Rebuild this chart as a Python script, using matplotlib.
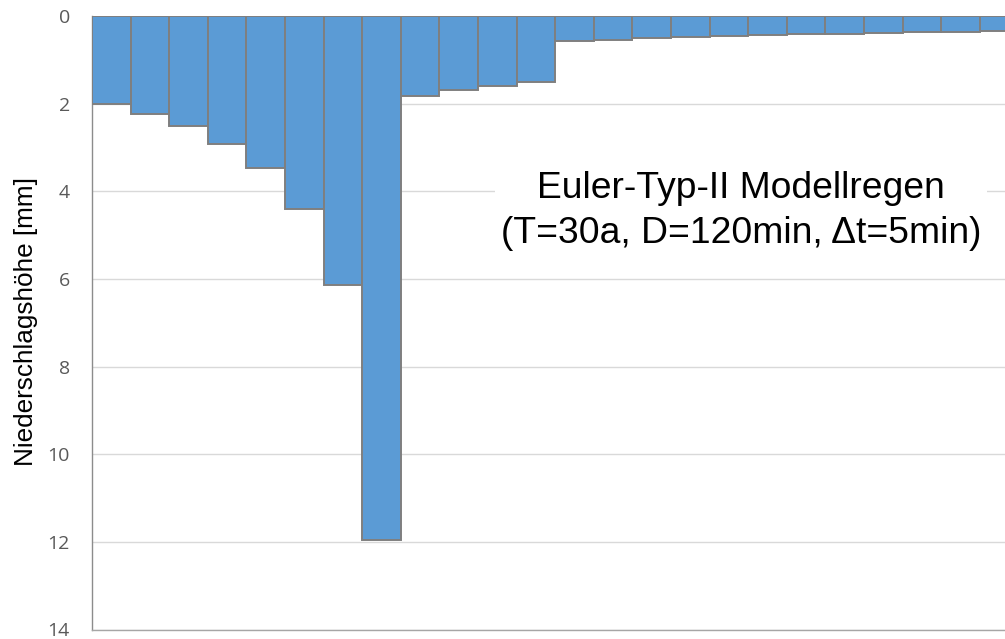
import matplotlib
matplotlib.use('Agg')
import numpy as np
import matplotlib.pyplot as plt

# Euler type II design storm, 24 intervals of 5 min
intervals = np.arange(1, 25)
depth_mm = [2.00, 2.23, 2.50, 2.92, 3.48, 4.41, 6.14, 11.96,
            1.83, 1.70, 1.60, 1.50, 0.57, 0.54, 0.51, 0.49,
            0.46, 0.43, 0.42, 0.40, 0.39, 0.37, 0.36, 0.35]
y_ticks = [0, 2, 4, 6, 8, 10, 12, 14]
y_label = 'Niederschlagshöhe [mm]'
title = 'Euler-Typ-II Modellregen\n(T=30a, D=120min, \u0394t=5min)'

fig = plt.figure(figsize=(10.05, 6.39), dpi=100)
W, H = 1005, 639
left, right, top, bottom = 92, 1018.4, 16, 629.5
ax = fig.add_axes([left / W, 1 - bottom / H, (right - left) / W, (bottom - top) / H])

ax.bar(intervals, depth_mm, width=1.0, color='#5B9BD5', edgecolor='#7F7F7F',
       linewidth=1.4, zorder=3)

ax.set_xlim(0.5, 24.5)
ax.set_ylim(14, 0)
ax.set_yticks(y_ticks)
ax.set_xticks([])
ax.grid(axis='y', color='#D9D9D9', linewidth=1.0, zorder=0)
ax.tick_params(axis='y', length=0, pad=16, labelsize=14, labelcolor='#595959')
for lbl in ax.get_yticklabels():
    lbl.set_fontfamily('Open Sans')

for s in ['top', 'right']:
    ax.spines[s].set_visible(False)
ax.spines['left'].set_color('#8C8C8C')
ax.spines['bottom'].set_color('#A6A6A6')
ax.spines['left'].set_linewidth(1.0)
ax.spines['bottom'].set_linewidth(1.0)

fig.text(26.5 / W, 1 - 321 / H, y_label, rotation=90, ha='center', va='center',
         fontsize=18.8, family='Liberation Sans', color='black')

fig.text(741 / W, 1 - 211 / H, title, ha='center', va='center', fontsize=26.8,
         family='Liberation Sans', color='black', linespacing=1.35,
         bbox=dict(facecolor='white', edgecolor='none', pad=4))

fig.savefig('out.png', dpi=100)
